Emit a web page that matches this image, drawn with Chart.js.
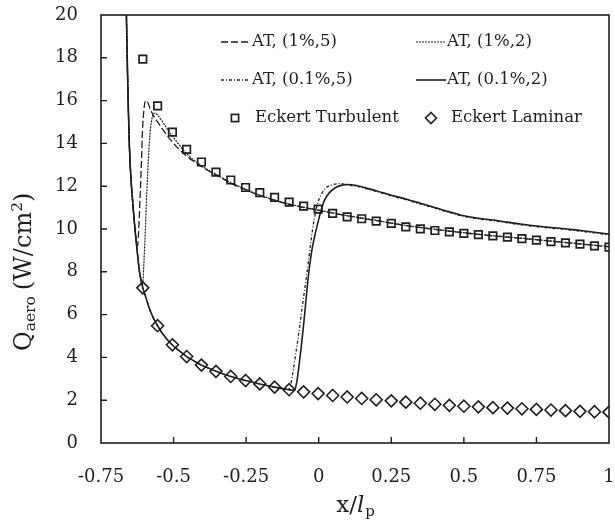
<!DOCTYPE html>
<html><head><meta charset="utf-8">
<script src="https://cdn.jsdelivr.net/npm/chart.js@4.4.1/dist/chart.umd.min.js"></script>
<style>html,body{margin:0;padding:0;background:#fff;}#wrap{width:615px;height:521px;}</style>
</head><body><div id="wrap"><canvas id="c" width="615" height="521"></canvas></div>
<script>
const FONT = '"DejaVu Serif", "Liberation Serif", serif';
const INK = '#1f1f1f';

// ---- tick labels ----
const xTicks = [-0.75, -0.5, -0.25, 0, 0.25, 0.5, 0.75, 1];
const yTicks = [0, 2, 4, 6, 8, 10, 12, 14, 16, 18, 20];

// ---- series names ----
const seriesNames = ['AT, (1%,5)', 'AT, (1%,2)', 'AT, (0.1%,5)', 'AT, (0.1%,2)', 'Eckert Turbulent', 'Eckert Laminar'];

// ---- Eckert correlations (markers) ----
const eckertX = [-0.606,-0.555,-0.504,-0.455,-0.404,-0.354,-0.303,-0.252,-0.203,-0.152,-0.102,-0.052,-0.002,0.048,0.098,0.148,0.198,0.25,0.3,0.35,0.4,0.45,0.5,0.55,0.6,0.65,0.7,0.75,0.8,0.85,0.9,0.95,1.0];
const eckertTurb = [17.94,15.75,14.53,13.72,13.13,12.66,12.29,11.94,11.70,11.48,11.26,11.07,10.93,10.73,10.57,10.48,10.37,10.26,10.10,10.01,9.93,9.87,9.80,9.74,9.68,9.62,9.55,9.48,9.41,9.35,9.29,9.21,9.15];
const eckertLam = [7.25,5.48,4.59,4.04,3.64,3.35,3.11,2.92,2.76,2.61,2.49,2.39,2.31,2.22,2.15,2.08,2.02,1.97,1.91,1.86,1.81,1.76,1.72,1.69,1.65,1.63,1.60,1.57,1.54,1.51,1.48,1.46,1.44];

// ---- AT, (1%,5) ----
const at1_5x = [-0.6625,-0.660,-0.658,-0.655,-0.652,-0.647,-0.641,-0.635,-0.628,-0.624,-0.619,-0.615,-0.611,-0.607,-0.602,-0.596,-0.590,-0.583,-0.575,-0.565,-0.555,-0.540,-0.525,-0.510,-0.490,-0.470,-0.450,-0.430,-0.410,-0.380,-0.350,-0.300,-0.250,-0.200,-0.150,-0.100,-0.050,0,0.05,0.1,0.15,0.2,0.25,0.3,0.4,0.5,0.6,0.7,0.8,0.9,1.0];
const at1_5y = [20.0,18.2,16.9,15.2,13.8,12.4,11.3,10.3,9.35,9.2,10.3,11.6,13.0,14.6,15.6,16.0,15.95,15.7,15.45,15.2,15.0,14.7,14.42,14.15,13.85,13.58,13.35,13.15,12.97,12.72,12.5,12.12,11.82,11.55,11.33,11.15,11.0,10.87,10.74,10.61,10.5,10.39,10.27,10.16,9.98,9.82,9.68,9.56,9.43,9.3,9.17];

// ---- AT, (1%,2) ----
const at1_2x = [-0.6625,-0.660,-0.658,-0.655,-0.652,-0.647,-0.641,-0.635,-0.629,-0.624,-0.618,-0.612,-0.607,-0.602,-0.597,-0.592,-0.587,-0.582,-0.576,-0.570,-0.564,-0.556,-0.545,-0.530,-0.510,-0.490,-0.470,-0.450,-0.430,-0.410,-0.380,-0.350,-0.300,-0.250,-0.200,-0.150,-0.100,-0.050,0,0.05,0.1,0.15,0.2,0.25,0.3,0.4,0.5,0.6,0.7,0.8,0.9,1.0];
const at1_2y = [20.0,18.2,16.9,15.2,13.8,12.4,11.3,10.3,9.45,8.8,8.05,7.6,7.35,8.5,10.0,11.8,13.2,14.3,15.05,15.35,15.42,15.35,15.15,14.85,14.45,14.1,13.75,13.45,13.22,13.02,12.75,12.53,12.15,11.85,11.57,11.35,11.16,11.01,10.88,10.75,10.62,10.51,10.4,10.28,10.17,9.99,9.83,9.69,9.57,9.44,9.31,9.18];

// ---- AT, (0.1%,5) ----
const at01_5x = [-0.6625,-0.660,-0.658,-0.655,-0.652,-0.647,-0.641,-0.635,-0.629,-0.624,-0.618,-0.612,-0.606,-0.600,-0.593,-0.585,-0.575,-0.565,-0.555,-0.540,-0.525,-0.505,-0.480,-0.455,-0.430,-0.404,-0.380,-0.354,-0.303,-0.252,-0.203,-0.152,-0.120,-0.105,-0.098,-0.090,-0.080,-0.070,-0.055,-0.040,-0.026,-0.015,-0.003,0.010,0.026,0.050,0.078,0.1,0.13,0.15,0.2,0.25,0.3,0.35,0.4,0.45,0.5,0.55,0.6,0.65,0.7,0.75,0.8,0.85,0.9,0.95,1.0];
const at01_5y = [20.0,18.2,16.9,15.2,13.8,12.4,11.3,10.3,9.45,8.8,8.05,7.6,7.25,7.0,6.7,6.35,6.0,5.72,5.48,5.15,4.88,4.59,4.3,4.04,3.84,3.64,3.5,3.35,3.11,2.92,2.76,2.61,2.54,2.5,2.65,3.2,4.1,5.0,6.54,8.0,9.51,10.5,11.23,11.65,11.93,12.08,12.12,12.05,12.0,11.93,11.75,11.55,11.37,11.17,10.97,10.77,10.59,10.47,10.39,10.29,10.19,10.11,10.04,9.98,9.9,9.82,9.73];

// ---- AT, (0.1%,2) ----
const at01_2x = [-0.6625,-0.660,-0.658,-0.655,-0.652,-0.647,-0.641,-0.635,-0.629,-0.624,-0.618,-0.612,-0.606,-0.600,-0.593,-0.585,-0.575,-0.565,-0.555,-0.540,-0.525,-0.505,-0.480,-0.455,-0.430,-0.404,-0.380,-0.354,-0.303,-0.252,-0.203,-0.152,-0.102,-0.090,-0.082,-0.075,-0.068,-0.060,-0.050,-0.037,-0.025,-0.014,0,0.009,0.020,0.037,0.060,0.080,0.1,0.13,0.15,0.2,0.25,0.3,0.35,0.4,0.45,0.5,0.55,0.6,0.65,0.7,0.75,0.8,0.85,0.9,0.95,1.0];
const at01_2y = [20.0,18.2,16.9,15.2,13.8,12.4,11.3,10.3,9.45,8.8,8.05,7.6,7.25,7.0,6.7,6.35,6.0,5.72,5.48,5.15,4.88,4.59,4.3,4.04,3.84,3.64,3.5,3.35,3.11,2.92,2.76,2.61,2.49,2.47,2.5,2.9,3.6,4.5,5.8,7.63,8.9,9.66,10.45,10.91,11.35,11.7,11.95,12.05,12.08,12.03,11.96,11.78,11.58,11.4,11.2,11.0,10.8,10.62,10.5,10.42,10.32,10.22,10.14,10.07,10.01,9.93,9.85,9.76];

const pts = (xs, ys) => xs.map((x, i) => ({x, y: ys[i]}));

const lineDs = (label, xs, ys, dash, w) => ({
  label, data: pts(xs, ys), borderColor: INK, borderWidth: w, borderDash: dash,
  pointRadius: 0, fill: false, cubicInterpolationMode: 'monotone', showLine: true
});

const datasets = [
  lineDs(seriesNames[0], at1_5x, at1_5y, [7, 3], 1.3),
  lineDs(seriesNames[1], at1_2x, at1_2y, [2, 1], 1.2),
  lineDs(seriesNames[2], at01_5x, at01_5y, [3, 2, 1, 2], 1.3),
  lineDs(seriesNames[3], at01_2x, at01_2y, [], 1.6),
  { label: seriesNames[4], data: pts(eckertX, eckertTurb), showLine: false, pointStyle: 'rect', pointRadius: 5.3,
    pointBorderColor: INK, pointBackgroundColor: 'rgba(0,0,0,0)', pointBorderWidth: 1.7, borderColor: INK },
  { label: seriesNames[5], data: pts(eckertX, eckertLam), showLine: false, pointStyle: 'rectRot', pointRadius: 6,
    pointBorderColor: INK, pointBackgroundColor: 'rgba(0,0,0,0)', pointBorderWidth: 1.6, borderColor: INK }
];

function drawLegendLine(ctx, x0, x1, y, ds) {
  ctx.save();
  ctx.strokeStyle = INK; ctx.lineWidth = ds.borderWidth;
  ctx.setLineDash(ds.borderDash || []);
  ctx.beginPath(); ctx.moveTo(x0, y); ctx.lineTo(x1, y); ctx.stroke();
  ctx.restore();
}

const decor = {
  id: 'decor',
  afterDatasetsDraw(chart) {
    const {ctx, chartArea: a, scales: {x, y}} = chart;
    ctx.save();
    // frame
    ctx.strokeStyle = INK; ctx.lineWidth = 1.6; ctx.setLineDash([]);
    ctx.strokeRect(a.left, a.top, a.right - a.left, a.bottom - a.top);
    // inward ticks
    ctx.lineWidth = 1.4;
    ctx.beginPath();
    yTicks.forEach(v => {
      if (v > yTicks[0] && v < yTicks[yTicks.length - 1]) {
        const py = y.getPixelForValue(v);
        ctx.moveTo(a.left, py); ctx.lineTo(a.left + 6, py);
      }
    });
    xTicks.forEach(v => {
      if (v > xTicks[0] && v < xTicks[xTicks.length - 1]) {
        const px = x.getPixelForValue(v);
        ctx.moveTo(px, a.bottom); ctx.lineTo(px, a.bottom - 6);
      }
    });
    ctx.stroke();

    // legend
    const ds = chart.data.datasets;
    ctx.fillStyle = INK;
    ctx.font = '16.5px ' + FONT;
    ctx.textBaseline = 'middle';
    ctx.textAlign = 'left';
    const rows = [42, 80, 118];
    drawLegendLine(ctx, 221, 250, rows[0], ds[0]); ctx.fillText(ds[0].label, 252, rows[0]);
    drawLegendLine(ctx, 416, 446, rows[0], ds[1]); ctx.fillText(ds[1].label, 447, rows[0]);
    drawLegendLine(ctx, 221, 250, rows[1], ds[2]); ctx.fillText(ds[2].label, 252, rows[1]);
    drawLegendLine(ctx, 416, 446, rows[1], ds[3]); ctx.fillText(ds[3].label, 447, rows[1]);
    // square marker
    ctx.lineWidth = 1.7; ctx.strokeStyle = INK;
    ctx.strokeRect(235 - 3.6, rows[2] - 3.6, 7.2, 7.2);
    ctx.fillText(ds[4].label, 255, rows[2]);
    // diamond marker
    ctx.beginPath();
    ctx.moveTo(431, rows[2] - 5.5); ctx.lineTo(436.5, rows[2]); ctx.lineTo(431, rows[2] + 5.5); ctx.lineTo(425.5, rows[2]); ctx.closePath();
    ctx.lineWidth = 1.6; ctx.stroke();
    ctx.fillText(ds[5].label, 451, rows[2]);

    // x axis title: x/l_p
    ctx.textBaseline = 'alphabetic';
    const cx = (a.left + a.right) / 2;
    const mainF = '23px ' + FONT, itF = 'italic 23px ' + FONT, subF = '15px ' + FONT;
    ctx.font = mainF; const w1 = ctx.measureText('x/').width;
    ctx.font = itF; const w2 = ctx.measureText('l').width;
    ctx.font = subF; const w3 = ctx.measureText('p').width;
    let sx = cx - (w1 + w2 + w3) / 2;
    const by = 512;
    ctx.font = mainF; ctx.fillText('x/', sx, by); sx += w1;
    ctx.font = itF; ctx.fillText('l', sx, by); sx += w2 + 1;
    ctx.font = subF; ctx.fillText('p', sx, by + 4);

    // y axis title: Q_aero (W/cm^2), rotated
    ctx.save();
    ctx.translate(31, 351);
    ctx.rotate(-Math.PI / 2);
    let tx = 0;
    const yMain = '24px ' + FONT, ySub = '15.5px ' + FONT;
    ctx.font = yMain; ctx.fillText('Q', tx, 0); tx += ctx.measureText('Q').width;
    ctx.font = ySub; ctx.fillText('aero', tx, 4); tx += ctx.measureText('aero').width + 6;
    ctx.font = yMain; ctx.fillText('(W/cm', tx, 0); tx += ctx.measureText('(W/cm').width;
    ctx.font = ySub; ctx.fillText('2', tx, -9); tx += ctx.measureText('2').width;
    ctx.font = yMain; ctx.fillText(')', tx, 0);
    ctx.restore();

    ctx.restore();
  }
};

new Chart(document.getElementById('c'), {
  type: 'line',
  data: { datasets },
  plugins: [decor],
  options: {
    responsive: false,
    animation: false,
    layout: { autoPadding: false, padding: { left: 0, right: 6, top: 15, bottom: 0 } },
    plugins: { legend: { display: false }, tooltip: { enabled: false } },
    scales: {
      x: {
        type: 'linear', min: xTicks[0], max: xTicks[xTicks.length - 1],
        afterBuildTicks: s => { s.ticks = xTicks.map(v => ({ value: v })); },
        afterFit: s => { s.height = 78; s.paddingLeft = 0; s.paddingRight = 0; s.paddingTop = 0; s.paddingBottom = 0; },
        grid: { display: false, drawTicks: false },
        border: { display: false },
        ticks: { padding: 24, color: INK, font: { family: FONT, size: 18 }, maxRotation: 0, autoSkip: false,
                 callback: v => String(v) }
      },
      y: {
        type: 'linear', min: yTicks[0], max: yTicks[yTicks.length - 1],
        afterBuildTicks: s => { s.ticks = yTicks.map(v => ({ value: v })); },
        afterFit: s => { s.width = 101; s.paddingLeft = 0; s.paddingRight = 0; s.paddingTop = 0; s.paddingBottom = 0; },
        grid: { display: false, drawTicks: false },
        border: { display: false },
        ticks: { padding: 23, color: INK, font: { family: FONT, size: 18 }, autoSkip: false,
                 callback: v => String(v) }
      }
    }
  }
});
</script>
</body></html>
